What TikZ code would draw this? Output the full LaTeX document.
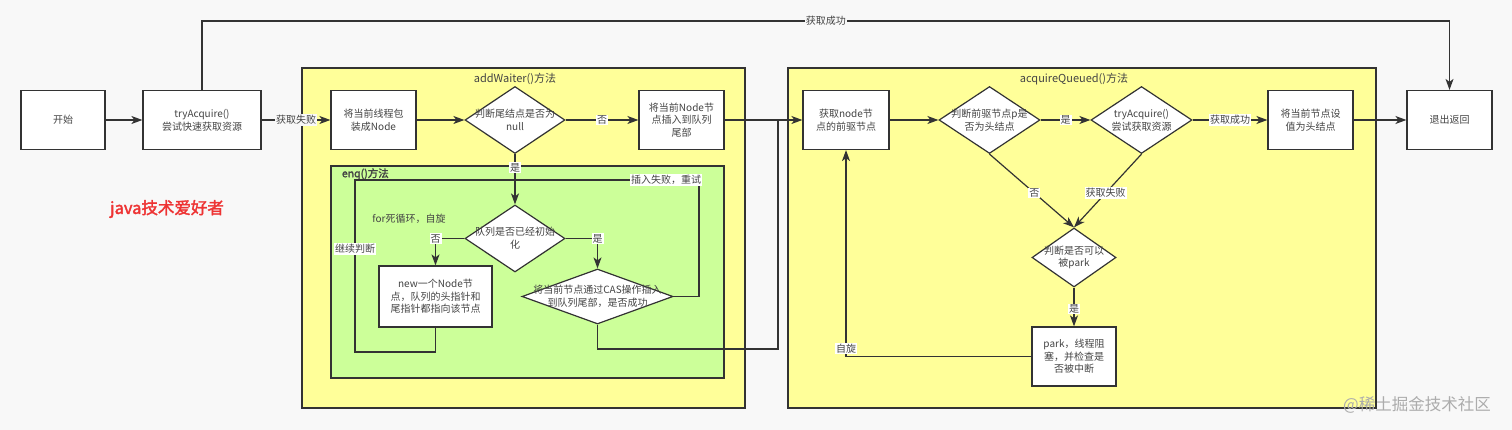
\documentclass[tikz,border=0pt]{standalone}
\usepackage{fontspec}
\setmainfont{Noto Sans CJK SC}[AutoFakeBold=2]
\usetikzlibrary{shapes.geometric,arrows.meta}
\definecolor{bg}{HTML}{F8F8F8}
\definecolor{ink}{HTML}{333333}
\definecolor{txt}{HTML}{444444}
\definecolor{lemon}{HTML}{FFFF99}
\definecolor{lime}{HTML}{CCFF99}
\definecolor{redmark}{HTML}{EE3333}

\begin{document}
\begin{tikzpicture}[x=1pt, y=-1pt, line width=1.2pt,
  every node/.style={text=txt, font=\fontsize{10}{12.7}\selectfont, align=center},
  box/.style={rectangle, draw=ink, fill=white, inner sep=0pt},
  decision/.style={diamond, draw=ink, fill=white, inner sep=0pt},
  conn/.style={draw=ink},
  arr/.style={conn, -{Stealth[length=11pt, width=8pt, inset=3pt]}},
  lbl/.style={fill=white, inner sep=1pt},
  group/.style={draw=ink, line width=1.5pt}]
  % background and margins
  \fill[bg] (0,0) rectangle (1512,430);
  \useasboundingbox (0,0) rectangle (1512,430);

  % method frames
  \filldraw[group, fill=lemon] (302,68) rectangle (745,408);
  \filldraw[group, fill=lemon] (788,68) rectangle (1376,408);
  \filldraw[group, fill=lime] (331,166) rectangle (724,378);
  \node[font=\fontsize{11}{13}\selectfont] (addtitle) at (515,79) {addWaiter()方法};
  \node[font=\fontsize{11}{13}\selectfont] (acqtitle) at (1074,79) {acquireQueued()方法};
  \node[anchor=west, font=\fontsize{10.5}{13}\selectfont\bfseries] (enqtitle) at (338,174) {enq()方法};
  \node (fortext) at (409,219) {for死循环，自旋};
  \node[text=redmark, font=\fontsize{16.5}{19}\selectfont\bfseries] (brand) at (167,209) {java技术爱好者};
  \node[text=gray!65, font=\fontsize{16.5}{19}\selectfont] (mark) at (1417,405) {@稀土掘金技术社区};

  % top row
  \node[box, minimum width=84, minimum height=59] (start) at (63,120) {开始};
  \node[box, minimum width=118, minimum height=59] (try) at (202,120) {tryAcquire()\\尝试快速获取资源};
  \node[box, minimum width=85, minimum height=59] (wrap) at (373.5,120) {将当前线程包\\装成Node};
  \node[decision, minimum width=100, minimum height=67,
        label={center:判断尾结点是否为\\null}] (isnull) at (515,120) {};
  \node[box, minimum width=85, minimum height=59] (tail) at (681.5,120) {将当前Node节\\点插入到队列\\尾部};
  \node[box, minimum width=86, minimum height=59] (pred) at (846,120) {获取node节\\点的前驱节点};
  \node[decision, minimum width=101, minimum height=67,
        label={center:判断前驱节点p是\\否为头结点}] (ishead) at (989.5,120) {};
  \node[decision, minimum width=101, minimum height=67,
        label={center:tryAcquire()\\尝试获取资源}] (tryq) at (1141.5,120) {};
  \node[box, minimum width=85, minimum height=59] (sethead) at (1310.5,120) {将当前节点设\\值为头结点};
  \node[box, minimum width=85, minimum height=59] (exit) at (1449.5,120) {退出返回};

  % enq() loop
  \node[decision, minimum width=100, minimum height=67,
        label={center:队列是否已经初始\\化}] (inited) at (515,238.5) {};
  \node[box, minimum width=113, minimum height=61] (newnode) at (435.5,296.5) {new一个Node节\\点，队列的头指针和\\尾指针都指向该节点};
  \node[decision, minimum width=151, minimum height=55,
        label={center:将当前节点通过CAS操作插入\\到队列尾部，是否成功}] (cas) at (597.5,296.5) {};

  % acquireQueued() lower part
  \node[decision, minimum width=84, minimum height=59,
        label={center:判断是否可以\\被park}] (canpark) at (1074,257.5) {};
  \node[box, minimum width=84, minimum height=59] (park) at (1074,356.5) {park，线程阻\\塞，并检查是\\否被中断};

  % connectors
  \foreach \a/\b in {start/try, wrap/isnull, tail/pred, pred/ishead, sethead/exit}
    \draw[arr] (\a) -- (\b);
  \draw[arr] (try) -- node[lbl, fill=bg]{获取失败} (wrap);
  \draw[arr] (try.north) -- (try.north |- 0,21) -- node[lbl, fill=bg]{获取成功} (exit.north |- 0,21) -- (exit.north);
  \draw[arr] (isnull) -- node[lbl]{否} (tail);
  \draw[arr] (isnull) -- node[lbl, pos=0.27]{是} (inited);
  \draw[arr] (inited.west) -| node[lbl]{否} (newnode.north);
  \draw[arr] (inited.east) -| node[lbl]{是} (cas.north);
  % CAS success joins the line into acquireQueued()
  \coordinate (merge) at (778,120);
  \draw[conn] (cas.south) -- (cas.south |- 0,349) -| (merge);
  % retry loop
  \draw[conn] (cas.east) -| (699,180) -| (355,352) -| (newnode.south);
  \node[lbl] (retry) at (666,180) {插入失败，重试};
  \node[lbl] (again) at (355,249) {继续判断};

  \draw[arr] (ishead) -- node[lbl]{是} (tryq);
  \draw[arr] (tryq) -- node[lbl]{获取成功} (sethead);
  \draw[arr] (ishead.south) -- node[lbl, pos=0.53]{否} (canpark.north);
  \draw[arr] (tryq.south) -- node[lbl, pos=0.53]{获取失败} (canpark.north);
  \draw[arr] (canpark) -- node[lbl, pos=0.55]{是} (park);
  \draw[arr] (park.west) -| node[lbl, pos=0.52]{自旋} (pred.south);
\end{tikzpicture}
\end{document}
